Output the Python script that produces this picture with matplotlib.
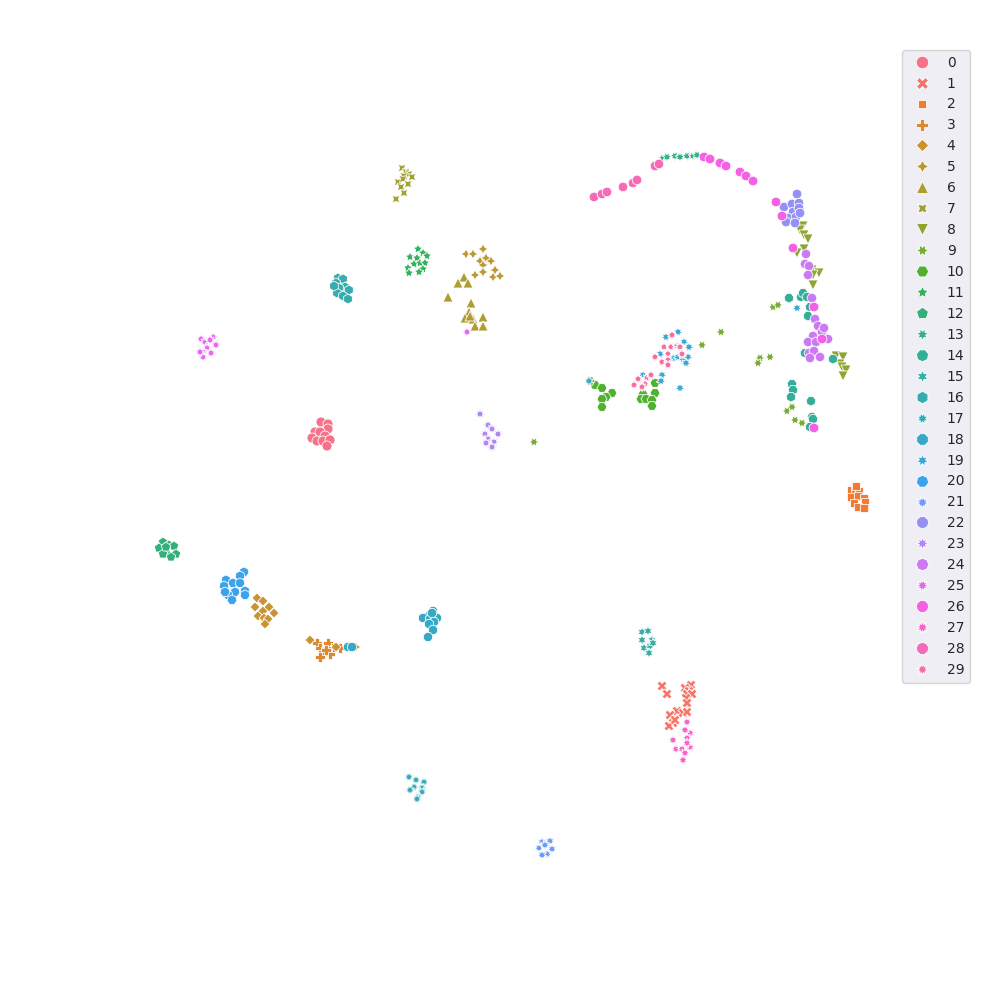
import numpy as np
import pandas as pd
import matplotlib
matplotlib.use("Agg")
import matplotlib.pyplot as plt
import seaborn as sns

# embedding coordinates per class (dim1, dim2)
cls_0 = [(-17.9, 7.8), (-17.2, 7.6), (-17.2, 7.1), (-18.5, 6.8), (-18.0, 6.8), (-17.5, 6.4),
         (-18.8, 6.2), (-18.3, 5.9), (-17.7, 5.9), (-17.0, 6.0), (-17.3, 5.4)]
cls_1 = [(16.2, -18.6), (16.7, -19.4), (19.1, -18.5), (18.5, -18.8), (18.9, -19.1), (18.7, -19.4),
         (19.2, -19.4), (18.6, -19.8), (18.7, -20.3), (17.7, -21.1), (18.3, -21.3), (18.7, -21.2),
         (17.0, -21.5), (17.3, -22.3), (16.9, -22.6), (17.5, -22.0)]
cls_2 = [(35.1, 1.0), (35.5, 1.0), (35.9, 0.9), (35.1, 0.3), (35.8, 0.4), (36.4, 0.2),
         (35.4, -0.3), (36.5, -0.2), (35.8, -0.7), (36.4, -0.8), (35.6, 1.4)]
cls_3 = [(-18.3, -14.3), (-17.2, -14.3), (-18.0, -14.8), (-16.7, -14.8), (-17.7, -15.2),
         (-17.0, -15.4), (-18.0, -15.7), (-16.0, -14.8), (-17.4, -15.0)]
cls_4 = [(-24.3, -9.8), (-23.7, -10.1), (-24.5, -10.7), (-23.7, -11.1), (-23.1, -10.7),
         (-22.6, -11.3), (-24.2, -11.6), (-23.6, -11.8), (-23.2, -11.9), (-23.5, -12.4),
         (-19.0, -14.0), (-16.4, -14.7)]
cls_5 = [(-3.4, 24.6), (-2.7, 24.6), (-1.7, 25.1), (-2.0, 23.9), (-1.4, 24.2), (-0.9, 23.9),
         (-1.7, 23.5), (-2.5, 22.5), (-1.7, 22.8), (-0.5, 23.0), (-0.7, 22.3), (0.0, 22.4),
         (-14.4, -14.7)]
cls_6 = [(-3.6, 22.3), (-4.2, 21.7), (-3.2, 21.7), (-5.2, 20.3), (-2.9, 19.7), (-3.1, 18.8),
         (-3.5, 18.2), (-2.7, 18.1), (-1.7, 18.3), (-2.5, 17.4), (-1.7, 17.4), (-3.0, 18.4)]
cls_7 = [(-9.8, 33.2), (-9.4, 32.8), (-9.1, 32.6), (-9.6, 32.4), (-10.2, 31.8), (-9.7, 32.1),
         (-9.2, 31.6), (-9.9, 31.3), (-9.6, 30.7), (-10.4, 30.1), (-8.8, 32.3)]
cls_8 = [(30.3, 27.4), (30.0, 27.0), (30.4, 26.5), (30.8, 26.1), (30.4, 25.1), (29.7, 24.7),
         (31.2, 23.0), (31.9, 22.7), (31.3, 22.5), (31.3, 21.5), (33.6, 14.4), (34.3, 14.3),
         (34.0, 13.6), (34.2, 13.3), (34.6, 13.0), (34.3, 12.4)]
cls_9 = [(27.3, 19.3), (27.8, 19.5), (27.0, 14.3), (26.0, 14.2), (25.8, 13.7), (28.7, 8.9),
         (29.2, 9.3), (29.5, 8.0), (30.2, 7.7), (22.1, 16.8), (20.2, 15.5), (3.4, 5.8)]
cls_10 = [(9.5, 11.5), (10.2, 11.2), (11.2, 10.7), (10.6, 10.3), (10.2, 10.1), (10.2, 9.3),
          (15.5, 11.7), (15.5, 10.7), (14.3, 10.6), (14.1, 10.1), (14.6, 10.1), (15.2, 10.0),
          (15.2, 9.4), (9.0, 11.9)]
cls_11 = [(-8.2, 25.1), (-9.0, 24.3), (-7.7, 24.7), (-7.3, 24.4), (-8.3, 24.2), (-8.6, 23.6),
          (-8.0, 23.7), (-7.5, 23.7), (-9.2, 23.2), (-7.7, 23.1), (-8.1, 22.8), (-9.1, 22.7)]
cls_12 = [(-33.7, -4.2), (-33.1, -4.5), (-32.6, -4.6), (-34.1, -4.8), (-33.3, -5.4),
          (-32.4, -5.4), (-33.7, -5.4), (-32.9, -5.7), (-33.4, -4.7)]
cls_13 = [(16.3, 34.2), (16.7, 34.3), (17.5, 34.4), (18.0, 34.3), (18.7, 34.4), (19.3, 34.4),
          (19.7, 34.5)]
cls_14 = [(28.9, 20.2), (30.1, 20.3), (30.3, 20.7), (31.0, 19.3), (30.8, 18.4), (30.5, 14.7),
          (33.3, 14.1), (29.2, 11.6), (29.3, 11.0), (29.1, 10.3), (31.1, 9.9), (31.2, 8.3),
          (31.3, 8.1), (31.0, 7.3), (30.7, 20.3)]
cls_15 = [(14.2, -13.2), (14.8, -13.1), (14.2, -14.0), (15.2, -14.0), (14.4, -14.8),
          (15.0, -14.6), (14.9, -15.3), (15.3, -14.3)]
cls_16 = [(-16.2, 22.2), (-15.7, 22.1), (-16.4, 21.7), (-15.5, 21.3), (-16.1, 21.2),
          (-15.1, 21.0), (-16.3, 20.7), (-15.7, 20.4), (-15.2, 20.1), (-16.6, 21.4)]
cls_17 = [(-9.1, -27.7), (-8.4, -28.0), (-7.6, -28.2), (-8.6, -28.7), (-7.8, -28.8),
          (-9.0, -29.0), (-7.8, -29.2), (-8.2, -29.7), (-8.3, -29.9), (8.9, 11.9)]
cls_18 = [(-6.7, -11.1), (-7.1, -11.6), (-7.7, -11.8), (-7.0, -11.9), (-6.3, -11.8),
          (-6.6, -12.2), (-7.1, -12.4), (-6.7, -13.0), (-7.2, -13.7), (-6.8, -11.3),
          (-15.2, -14.7), (-14.8, -14.7)]
cls_19 = [(16.6, 16.3), (17.8, 16.8), (18.4, 15.8), (18.9, 15.3), (16.0, 14.6), (17.3, 14.2),
          (17.8, 14.3), (18.3, 14.1), (18.8, 14.3), (18.6, 13.7), (16.2, 12.5), (18.0, 11.2),
          (14.3, 12.5), (16.1, 11.9), (29.7, 19.2)]
cls_20 = [(-25.6, -7.2), (-26.0, -7.6), (-27.4, -8.0), (-26.7, -8.3), (-26.0, -8.3),
          (-27.6, -8.6), (-26.5, -9.2), (-25.5, -9.1), (-27.2, -9.5), (-25.5, -9.5),
          (-26.8, -10.0), (-27.5, -9.2)]
cls_21 = [(4.2, -34.2), (5.0, -34.1), (3.9, -34.8), (5.2, -34.9), (4.7, -35.4), (4.2, -35.5),
          (4.5, -34.5)]
cls_22 = [(29.7, 30.6), (28.4, 29.3), (29.2, 29.6), (29.9, 29.7), (29.3, 28.8), (29.9, 29.2),
          (28.8, 28.2), (29.6, 28.3), (28.6, 27.8), (29.5, 27.7), (30.0, 28.7)]
cls_23 = [(-2.0, 8.6), (-1.2, 7.5), (-0.8, 7.1), (-0.2, 6.6), (-1.5, 6.6), (-1.2, 6.1),
          (-0.6, 5.8), (-0.8, 5.3), (-1.4, 5.7)]
cls_24 = [(30.6, 24.6), (30.5, 23.6), (30.9, 23.4), (30.8, 22.5), (31.2, 20.2), (31.5, 18.1),
          (31.8, 17.4), (32.2, 16.8), (32.4, 17.2), (31.3, 16.4), (32.8, 16.1), (30.8, 15.8),
          (31.6, 15.8), (30.9, 14.7), (31.4, 14.9), (31.0, 14.2), (32.0, 14.3)]
cls_25 = [(-29.9, 16.1), (-28.7, 16.3), (-29.5, 15.8), (-29.0, 16.0), (-28.4, 15.5),
          (-29.3, 15.2), (-29.7, 14.8), (-28.9, 14.7), (-29.7, 14.3), (-30.0, 14.8), (-3.3, 16.8)]
cls_26 = [(20.4, 34.3), (21.0, 34.1), (22.0, 33.7), (22.6, 33.4), (24.0, 32.8), (24.6, 32.4),
          (25.3, 31.9), (27.6, 29.8), (28.2, 28.4), (29.3, 25.2), (31.4, 19.3), (32.2, 16.1),
          (31.4, 7.2)]
cls_27 = [(18.7, -22.2), (19.0, -23.3), (18.5, -23.0), (18.7, -23.8), (17.3, -24.0),
          (17.6, -24.9), (18.2, -24.9), (18.5, -25.3), (19.0, -24.7), (18.3, -26.0), (18.7, -24.3)]
cls_28 = [(9.4, 30.3), (10.2, 30.6), (10.7, 30.8), (12.3, 31.3), (13.3, 31.7), (13.7, 32.0),
          (15.5, 33.4), (15.9, 33.6)]
cls_29 = [(17.2, 16.5), (16.4, 15.3), (17.1, 15.3), (17.7, 15.4), (18.0, 15.3), (16.8, 14.6),
          (18.2, 14.6), (15.5, 14.3), (16.2, 13.8), (16.8, 14.0), (16.8, 13.5), (13.8, 12.1),
          (14.7, 12.2), (15.1, 12.5), (14.5, 11.6), (13.4, 11.5), (14.2, 11.3)]

clusters = [cls_0, cls_1, cls_2, cls_3, cls_4, cls_5, cls_6, cls_7, cls_8, cls_9,
            cls_10, cls_11, cls_12, cls_13, cls_14, cls_15, cls_16, cls_17, cls_18, cls_19,
            cls_20, cls_21, cls_22, cls_23, cls_24, cls_25, cls_26, cls_27, cls_28, cls_29]
label_names = [str(i) for i in range(len(clusters))]

rows = []
for name, pts in zip(label_names, clusters):
    for x, y in pts:
        rows.append({"dim1": x, "dim2": y, "label": name})
df = pd.DataFrame(rows)

sns.set_style("darkgrid")
plt.rcParams["lines.markersize"] = 7.2

fig = plt.figure(figsize=(10, 10), dpi=100)
ax = fig.add_axes([0, 0, 1, 1])
sns.scatterplot(data=df, x="dim1", y="dim2", hue="label", style="label",
                hue_order=label_names, style_order=label_names, ax=ax)
ax.set_xlim(-50, 50)
ax.set_ylim(-50, 50)
ax.axis("off")
sns.move_legend(ax, "upper right", bbox_to_anchor=(0.97, 0.95), borderaxespad=0,
                title=None, markerscale=1.25)

fig.savefig("out.png", dpi=100)
